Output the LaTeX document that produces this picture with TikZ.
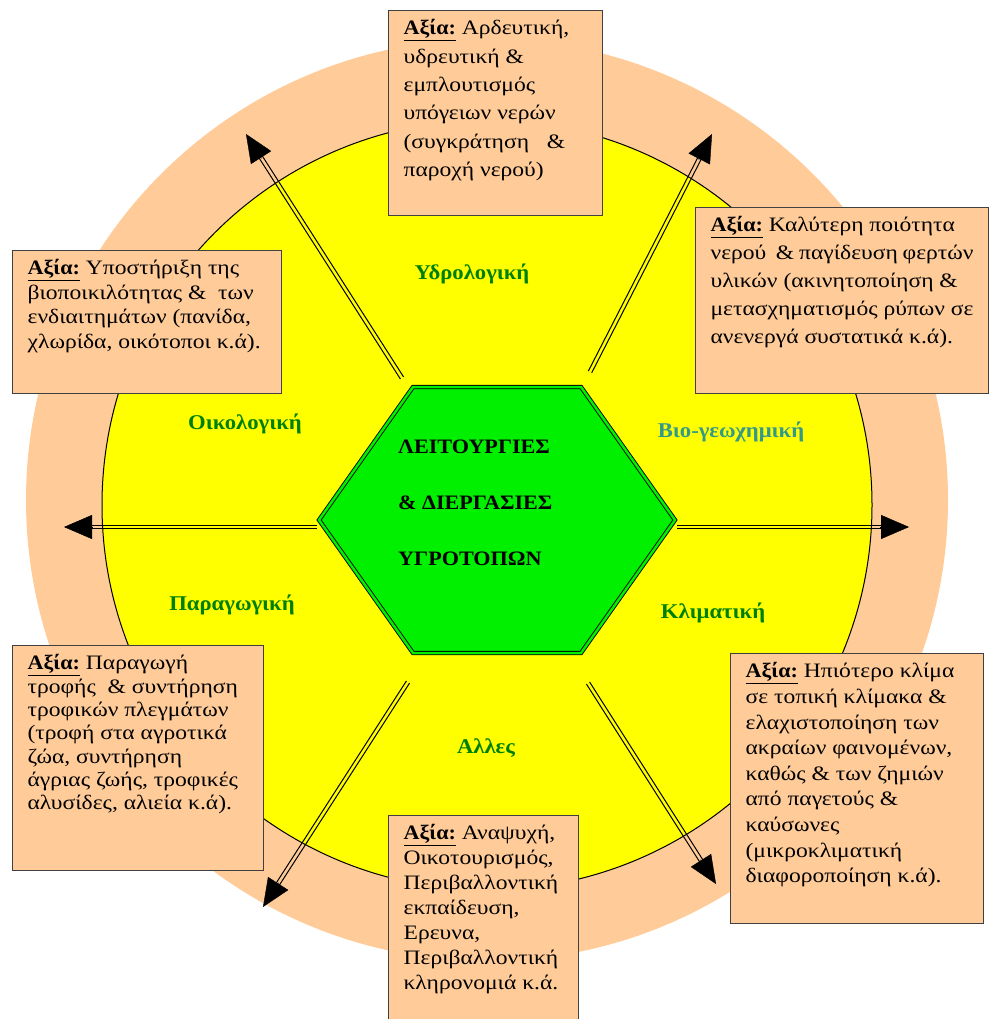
\documentclass[tikz,border=0pt]{standalone}
\usepackage{fontspec}
\setmainfont{Liberation Serif}
\newfontfamily\widefont[FakeStretch=1.15]{Liberation Serif}
\newfontfamily\widebold[FakeStretch=1.08]{Liberation Serif Bold}
\usetikzlibrary{calc,arrows.meta}

\definecolor{peach}{HTML}{FFCC99}
\definecolor{disc}{HTML}{FFFF00}
\definecolor{hexgreen}{HTML}{00F000}
\definecolor{lblgreen}{HTML}{008000}
\definecolor{lblteal}{HTML}{339988}
\definecolor{boxline}{HTML}{404040}

\tikzset{
  valbox/.style={draw=boxline, line width=1.2pt, fill=peach, anchor=north west,
    inner xsep=15pt, inner ysep=9pt, align=left},
  funclabel/.style={font=\fontsize{21}{24}\widebold, text=lblgreen},
  shaft/.style={line width=1pt},
  head/.style={-{Triangle[length=28pt,width=24pt]}}
}

\newcommand{\axia}{\underline{\widebold Αξία:}}
% width, height, baselineskip, text
\newcommand{\valtext}[4]{\parbox[t][#2][t]{#1}{\fontsize{20.5}{#3}\widefont #4}}
% double shaft with a solid head
\newcommand{\flowarrow}[2]{%
  \coordinate (#1-b) at ($(#2)!20pt!(#1)$);
  \draw[shaft] ($(#1)!1.9pt!90:(#2)$) -- ($(#1-b)!1.9pt!-90:(#1)$);
  \draw[shaft] ($(#1)!1.9pt!-90:(#2)$) -- ($(#1-b)!1.9pt!90:(#1)$);
  \draw[head] ($(#2)!29pt!(#1)$) -- (#2);
}

\begin{document}
\begin{tikzpicture}[x=1pt,y=-1pt]
\useasboundingbox (0,0) rectangle (991,1019);

% rings
\fill[peach] (487,500) circle (461);
\draw[fill=disc, line width=1pt] (487,505) circle (385);

% arrows
\coordinate (ul) at (402,378);  \coordinate (ul-t) at (246,134);
\coordinate (ur) at (590,372);  \coordinate (ur-t) at (712,134);
\coordinate (lf) at (317,527);  \coordinate (lf-t) at (64,527);
\coordinate (rt) at (677,527);  \coordinate (rt-t) at (909,527);
\coordinate (ll) at (408,682);  \coordinate (ll-t) at (263,907);
\coordinate (lr) at (588,683);  \coordinate (lr-t) at (716,884);
\foreach \a in {ul,ur,lf,rt,ll,lr}
  {\flowarrow{\a}{\a-t}}

% hexagon
\draw[fill=hexgreen, double=hexgreen, double distance=2.5pt, line width=0.9pt]
  (319,520) -- (413,387) -- (581,387) -- (675,520) -- (581,653) -- (413,653) -- cycle;
\node[font=\fontsize{20.5}{56}\widebold, align=left, anchor=north west, inner sep=0pt]
  (core) at (398,440) {ΛΕΙΤΟΥΡΓΙΕΣ\\\& ΔΙΕΡΓΑΣΙΕΣ\\ΥΓΡΟΤΟΠΩΝ};

% functions
\node[funclabel] (hydro) at (472,274) {Υδρολογική};
\node[funclabel] (eco)   at (245,424) {Οικολογική};
\node[funclabel] (prod)  at (232,605) {Παραγωγική};
\node[funclabel, text=lblteal] (biogeo) at (731,432) {Βιο-γεωχημική};
\node[funclabel] (clim)  at (713,613) {Κλιματική};
\node[funclabel] (other) at (486,748) {Αλλες};

% values
\node[valbox] (v-hydro) at (388,10) {\valtext{184pt}{187pt}{28.3pt}{%
  \axia{}  Αρδευτική,\\υδρευτική \&\\εμπλουτισμός\\υπόγειων νερών\\(συγκράτηση \ \ \&\\παροχή νερού)}};
\node[valbox] (v-biogeo) at (695,207) {\valtext{263pt}{168pt}{28pt}{%
  \axia{}  Καλύτερη ποιότητα\\νερού \ \& παγίδευση φερτών\\υλικών (ακινητοποίηση \&\\μετασχηματισμός ρύπων σε\\ανενεργά συστατικά κ.ά).}};
\node[valbox] (v-eco) at (12,250) {\valtext{239pt}{125pt}{24.5pt}{%
  \axia{}  Υποστήριξη της\\βιοποικιλότητας \& \ των\\ενδιαιτημάτων (πανίδα,\\χλωρίδα, οικότοποι κ.ά).}};
\node[valbox] (v-prod) at (12,645) {\valtext{221pt}{207pt}{23.3pt}{%
  \axia{} Παραγωγή\\τροφής \ \& συντήρηση\\τροφικών πλεγμάτων\\(τροφή στα αγροτικά\\ζώα, συντήρηση\\άγριας ζωής, τροφικές\\αλυσίδες, αλιεία κ.ά).}};
\node[valbox] (v-clim) at (730,653) {\valtext{223pt}{252pt}{25.6pt}{%
  \axia{} Ηπιότερο κλίμα\\σε τοπική κλίμακα \&\\ελαχιστοποίηση των\\ακραίων φαινομένων,\\καθώς \& των ζημιών\\από παγετούς \&\\καύσωνες\\(μικροκλιματική\\διαφοροποίηση κ.ά).}};
\node[valbox] (v-other) at (388,815) {\valtext{160pt}{190pt}{25pt}{%
  \axia{} Αναψυχή,\\Οικοτουρισμός,\\Περιβαλλοντική\\εκπαίδευση,\\Ερευνα,\\Περιβαλλοντική\\κληρονομιά κ.ά.}};
\end{tikzpicture}
\end{document}
